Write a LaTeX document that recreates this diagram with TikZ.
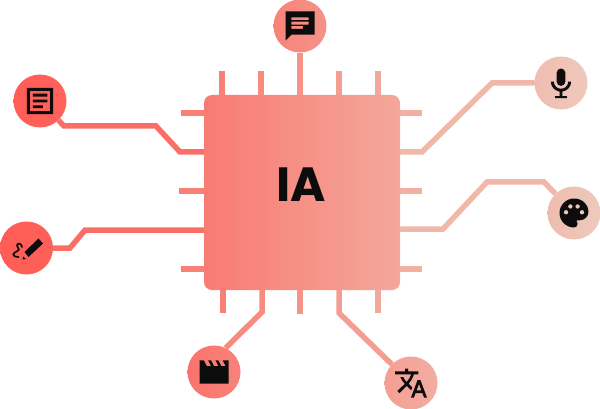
\documentclass[tikz,border=0pt]{standalone}
\usepackage{fontspec}
\setsansfont{Poppins}
\usetikzlibrary{svg.path}

\definecolor{tone2}{HTML}{FB6E66}
\definecolor{tone3}{HTML}{F98077}
\definecolor{tone4}{HTML}{F88A80}
\definecolor{tone5}{HTML}{F6948A}
\definecolor{tone6}{HTML}{F49E92}
\definecolor{tone7}{HTML}{F3A89C}
\definecolor{tone8}{HTML}{F2B0A3}
\definecolor{tone9}{HTML}{F1B7A9}
\definecolor{tone10}{HTML}{EEC6B8}
\definecolor{inkblack}{HTML}{0C0C0C}
\definecolor{chipL}{HTML}{F87B74}
\definecolor{chipR}{HTML}{F4A79A}
\definecolor{docL}{HTML}{FF5D56}
\definecolor{docR}{HTML}{FF635C}
\definecolor{draftL}{HTML}{FF5C55}
\definecolor{draftR}{HTML}{FE615A}
\definecolor{chatL}{HTML}{F68379}
\definecolor{chatR}{HTML}{F59389}
\definecolor{micL}{HTML}{EFBDAF}
\definecolor{micR}{HTML}{EFC9BC}
\definecolor{paletteL}{HTML}{EEBCAE}
\definecolor{paletteR}{HTML}{EDCABD}
\definecolor{movieL}{HTML}{F9736C}
\definecolor{movieR}{HTML}{F8837A}
\definecolor{langL}{HTML}{F49F93}
\definecolor{langR}{HTML}{F3ADA1}

\tikzset{
    bubble/.style={circle, minimum size=53pt, inner sep=0pt, left color=#1L, right color=#1R},
    pin/.style={line width=5.5pt, draw=#1},
    iconpath/.style={shift={(#1)}, scale=1.45, yscale=-1, xshift=-12pt, yshift=-12pt},
    iconfill/.style={fill=inkblack, even odd rule}
}

\begin{document}
\begin{tikzpicture}[x=1pt, y=-1pt]
    \useasboundingbox (0, 0) rectangle (600, 409);

    \node (chip) [minimum width=196pt, minimum height=195pt, inner sep=0pt, rounded corners=8pt, left color=chipL, right color=chipR] at (302, 192.5) {};
    \node (ia) [font=\sffamily\bfseries\fontsize{48}{48}\selectfont, text=inkblack] at (301.5, 184.5) {IA};

    \node (doc) [bubble=doc] at (40, 101) {};
    \node (draft) [bubble=draft] at (26.5, 248) {};
    \node (chat) [bubble=chat] at (300, 26) {};
    \node (mic) [bubble=mic] at (561, 83) {};
    \node (palette) [bubble=palette] at (574, 213) {};
    \node (movie) [bubble=movie] at (214, 372) {};
    \node (lang) [bubble=lang] at (411, 383) {};

    % stubs
    \coordinate (T1) at (222, 71);
    \coordinate (T2) at (261, 71);
    \coordinate (T4) at (339, 71);
    \coordinate (T5) at (378, 71);
    \draw[pin=tone3] (T1) -- (T1 |- chip.north);
    \draw[pin=tone4] (T2) -- (T2 |- chip.north);
    \draw[pin=tone6] (T4) -- (T4 |- chip.north);
    \draw[pin=tone7] (T5) -- (T5 |- chip.north);

    \coordinate (B1) at (223, 313);
    \coordinate (B3) at (300, 314);
    \coordinate (B5) at (378, 313);
    \draw[pin=tone3] (B1) -- (B1 |- chip.south);
    \draw[pin=tone5] (B3) -- (B3 |- chip.south);
    \draw[pin=tone7] (B5) -- (B5 |- chip.south);

    \coordinate (L1) at (181, 113);
    \coordinate (L3) at (179, 191);
    \coordinate (L5) at (181, 269);
    \draw[pin=tone3] (L1) -- (L1 -| chip.west);
    \draw[pin=tone3] (L3) -- (L3 -| chip.west);
    \draw[pin=tone3] (L5) -- (L5 -| chip.west);

    \coordinate (R1) at (422, 113);
    \coordinate (R3) at (422, 191);
    \coordinate (R5) at (422, 269);
    \draw[pin=tone8] (R1) -- (R1 -| chip.east);
    \draw[pin=tone8] (R3) -- (R3 -| chip.east);
    \draw[pin=tone8] (R5) -- (R5 -| chip.east);

    % connectors
    \coordinate (docA) at (180, 152);
    \coordinate (docB) at (156, 126);
    \coordinate (docC) at (64, 126);
    \draw[pin=tone2] (docA -| chip.west) -- (docA) -- (docB) -- (docC) -- (doc);

    \coordinate (draftA) at (85, 230);
    \coordinate (draftB) at (70, 248);
    \draw[pin=tone2] (draftA -| chip.west) -- (draftA) -- (draftB) -- (draft);

    \draw[pin=tone5] (chat |- chip.north) -- (chat);

    \coordinate (micA) at (422, 152);
    \coordinate (micB) at (492, 83);
    \draw[pin=tone9] (micA -| chip.east) -- (micA) -- (micB) -- (mic);

    \coordinate (paletteA) at (443, 229);
    \coordinate (paletteB) at (487, 182);
    \coordinate (paletteC) at (544, 182);
    \draw[pin=tone9] (paletteA -| chip.east) -- (paletteA) -- (paletteB) -- (paletteC) -- (palette);

    \coordinate (movieA) at (262, 312);
    \draw[pin=tone4] (movieA |- chip.south) -- (movieA) -- (movie.64);

    \coordinate (langA) at (339, 313);
    \draw[pin=tone6] (langA |- chip.south) -- (langA) -- (lang);

    % icons
    \begin{scope}[iconpath=doc]
        \fill[iconfill] svg "M3 3H21V21H3Z M5 5V19H19V5Z M7 7H17V9H7Z M7 11H17V13H7Z M7 15H14V17H7Z";
    \end{scope}
    \begin{scope}[iconpath=chat]
        \fill[iconfill] svg "M2 2H22V18H6L2 22Z M6 6V8H18V6Z M6 9V11H18V9Z M6 12V14H14V12Z";
    \end{scope}
    \begin{scope}[iconpath=mic]
        \fill[iconfill] svg "M12 14c1.66 0 3-1.34 3-3V5c0-1.66-1.34-3-3-3S9 3.34 9 5v6c0 1.66 1.34 3 3 3z";
        \fill[iconfill] svg "M17 11c0 2.76-2.24 5-5 5s-5-2.24-5-5H5c0 3.53 2.61 6.43 6 6.92V21H8v1.5H16V21H13v-3.08c3.39-.49 6-3.39 6-6.92h-2z";
    \end{scope}
    \begin{scope}[iconpath=palette]
        \fill[iconfill] svg "M12 2C6.49 2 2 6.49 2 12s4.49 10 10 10c1.38 0 2.5-1.12 2.5-2.5 0-.61-.23-1.2-.64-1.67-.08-.1-.13-.21-.13-.33 0-.28.22-.5.5-.5H16c3.31 0 6-2.69 6-6 0-4.96-4.49-9-10-9z";
        \fill[tone10] (6.5pt, 11.5pt) circle (1.5pt) (9.5pt, 7.5pt) circle (1.5pt) (14.5pt, 7.5pt) circle (1.5pt) (17.5pt, 11.5pt) circle (1.5pt);
    \end{scope}
    \begin{scope}[iconpath=movie]
        \fill[iconfill] svg "M18 4l2 4h-3l-2-4h-2l2 4h-3l-2-4H8l2 4H7L5 4H2v16h20V4h-4z";
    \end{scope}
    \begin{scope}[iconpath=lang]
        \fill[iconfill] svg "M12.87 15.07l-2.54-2.51.03-.03c1.74-1.94 2.98-4.17 3.71-6.53H17V4h-7V2H8v2H1v1.99h11.17C11.5 7.92 10.44 9.75 9 11.35 8.07 10.32 7.3 9.19 6.69 8h-2c.73 1.63 1.73 3.17 2.98 4.56l-5.09 5.02L4 19l5-5 3.11 3.11.76-2.04z";
        \fill[iconfill] svg "M18.5 10h-2L12 22h2l1.12-3h4.75L21 22h2l-4.5-12z M15.88 17l1.62-4.33L19.12 17h-3.24z";
    \end{scope}
    \begin{scope}[shift={(draft)}]
        \fill[inkblack] (-2, 4) -- (12, -9.5) -- (16.5, -4.5) -- (2, 9) -- cycle;
        \fill[inkblack] (-3.5, 8.5) -- (-0.5, 11) -- (-4, 11.5) -- cycle;
        \draw[inkblack, line width=1.7pt, line cap=round] (-4.5, -1) .. controls (-5, -5) and (-9, -5.5) .. (-9.5, -2.5) .. controls (-10, 1) and (-5.5, 0.5) .. (-9, 3) .. controls (-14, 5) and (-15.5, 8.5) .. (-8, 9);
    \end{scope}
\end{tikzpicture}
\end{document}
